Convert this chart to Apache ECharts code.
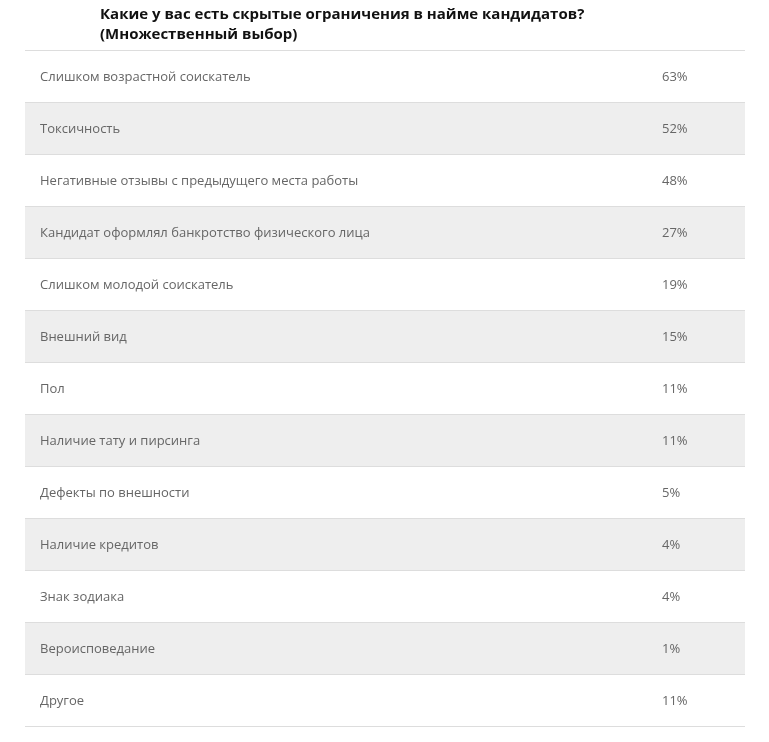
<!DOCTYPE html>
<html>
<head>
<meta charset="utf-8">
<script src="https://cdn.jsdelivr.net/npm/echarts@6/dist/echarts.min.js"></script>
<style>
  html, body { margin: 0; padding: 0; background: #fff; }
  #main { width: 769px; height: 742px; }
</style>
</head>
<body>
<div id="main"></div>
<script>
// ответы и доли
var titleText = 'Какие у вас есть скрытые ограничения в найме кандидатов?\n(Множественный выбор)';
var answers = [
  'Слишком возрастной соискатель',
  'Токсичность',
  'Негативные отзывы с предыдущего места работы',
  'Кандидат оформлял банкротство физического лица',
  'Слишком молодой соискатель',
  'Внешний вид',
  'Пол',
  'Наличие тату и пирсинга',
  'Дефекты по внешности',
  'Наличие кредитов',
  'Знак зодиака',
  'Вероисповедание',
  'Другое'
];
var shares = [63, 52, 48, 27, 19, 15, 11, 11, 5, 4, 4, 1, 11];

var chart = echarts.init(document.getElementById('main'));

var option = {
  backgroundColor: '#ffffff',
  animation: false,
  title: {
    text: titleText,
    left: 95,
    top: 0,
    textStyle: {
      fontFamily: 'Open Sans',
      fontSize: 15,
      fontWeight: 'bold',
      color: '#111',
      lineHeight: 20
    }
  },
  grid: { left: 25, right: 24, top: 50, bottom: 16, containLabel: false },
  xAxis: {
    type: 'value',
    min: 0,
    max: 100,
    show: false
  },
  yAxis: {
    type: 'category',
    inverse: true,
    data: answers,
    axisLine: { show: false },
    axisTick: { show: false },
    splitLine: { show: true, lineStyle: { color: '#dddddd', width: 1 } },
    splitArea: { show: true, areaStyle: { color: ['#ffffff', '#eeeeee'] } },
    axisLabel: {
      align: 'left',
      margin: -15,
      fontFamily: 'Open Sans',
      fontSize: 13,
      color: '#666',
      formatter: function (value, idx) {
        return '{n|' + value + '}{p|' + shares[idx] + '%}';
      },
      rich: {
        n: { width: 622, fontFamily: 'Open Sans', fontSize: 13, color: '#666', padding: [2, 0, 0, 0] },
        p: { fontFamily: 'Open Sans', fontSize: 13, color: '#666', padding: [2, 0, 0, 0] }
      }
    }
  },
  series: [{
    type: 'bar',
    data: shares,
    itemStyle: { color: 'rgba(0,0,0,0)' },
    silent: true
  }]
};

chart.setOption(option);
</script>
</body>
</html>
